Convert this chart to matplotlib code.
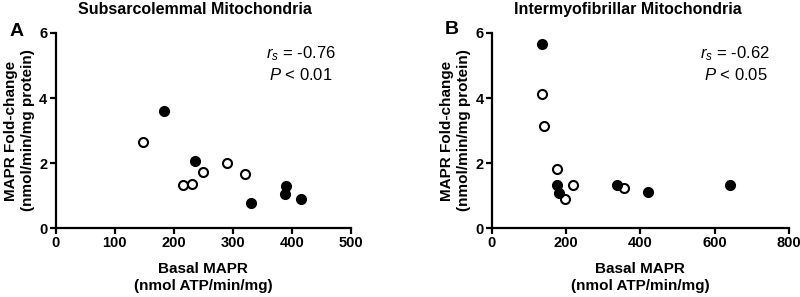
import matplotlib
matplotlib.use("Agg")
import matplotlib.pyplot as plt

plt.rcParams['font.family'] = ['Liberation Sans', 'DejaVu Sans']
plt.rcParams['mathtext.fontset'] = 'custom'
plt.rcParams['mathtext.rm'] = 'Liberation Sans'
plt.rcParams['mathtext.it'] = 'Liberation Sans:italic'

# Panel A - subsarcolemmal
sub_open_x = [148, 216, 231, 249, 290, 321]
sub_open_y = [2.64, 1.31, 1.36, 1.71, 1.99, 1.65]
sub_fill_x = [183, 236, 331, 391, 388, 415]
sub_fill_y = [3.59, 2.05, 0.77, 1.29, 1.04, 0.90]

# Panel B - intermyofibrillar
imf_open_x = [136, 140, 175, 198, 217, 357]
imf_open_y = [4.13, 3.13, 1.81, 0.90, 1.33, 1.22]
imf_fill_x = [136, 175, 180, 338, 420, 642]
imf_fill_y = [5.65, 1.31, 1.08, 1.34, 1.10, 1.31]

fig = plt.figure(figsize=(8, 2.97), dpi=100)
axA = fig.add_axes([0.0695, 0.232, 0.369, 0.657])
axB = fig.add_axes([0.615, 0.232, 0.371, 0.657])


def style(ax, xmax, xticks):
    ax.set_xlim(0, xmax)
    ax.set_ylim(0, 6)
    ax.set_xticks(xticks)
    ax.set_yticks([0, 2, 4, 6])
    for s in ['top', 'right']:
        ax.spines[s].set_visible(False)
    for s in ['left', 'bottom']:
        ax.spines[s].set_linewidth(1.6)
    ax.tick_params(width=1.6, length=4, labelsize=10.5, pad=2)
    for lab in ax.get_xticklabels() + ax.get_yticklabels():
        lab.set_fontweight('bold')
    ax.set_xlabel("Basal MAPR\n(nmol ATP/min/mg)", fontsize=11, fontweight='bold',
                  labelpad=8, linespacing=1.35)
    ax.set_ylabel("MAPR Fold-change\n(nmol/min/mg protein)", fontsize=11, fontweight='bold',
                  labelpad=3, linespacing=1.3)


for ax, ox, oy, fx, fy in [(axA, sub_open_x, sub_open_y, sub_fill_x, sub_fill_y),
                           (axB, imf_open_x, imf_open_y, imf_fill_x, imf_fill_y)]:
    ax.plot(ox, oy, 'o', ms=6.5, mfc='white', mec='black', mew=1.5, clip_on=False)
    ax.plot(fx, fy, 'o', ms=6.5, mfc='black', mec='black', mew=1.5, clip_on=False)

style(axA, 500, [0, 100, 200, 300, 400, 500])
style(axB, 800, [0, 200, 400, 600, 800])

axA.text(0.83, 0.87, r"$r_s$ = -0.76", transform=axA.transAxes, ha='center', fontsize=12)
axA.text(0.83, 0.76, r"$P$ < 0.01", transform=axA.transAxes, ha='center', fontsize=12)
axB.text(0.82, 0.87, r"$r_s$ = -0.62", transform=axB.transAxes, ha='center', fontsize=12)
axB.text(0.82, 0.76, r"$P$ < 0.05", transform=axB.transAxes, ha='center', fontsize=12)

fig.text(0.244, 0.968, "Subsarcolemmal Mitochondria", ha='center', va='center', fontsize=11.5, fontweight='bold')
fig.text(0.785, 0.968, "Intermyofibrillar Mitochondria", ha='center', va='center', fontsize=11.5, fontweight='bold')
fig.text(0.021, 0.895, "A", ha='center', va='center', fontsize=14, fontweight='bold')
fig.text(0.565, 0.9, "B", ha='center', va='center', fontsize=14, fontweight='bold')

fig.savefig("out.png", dpi=100)
